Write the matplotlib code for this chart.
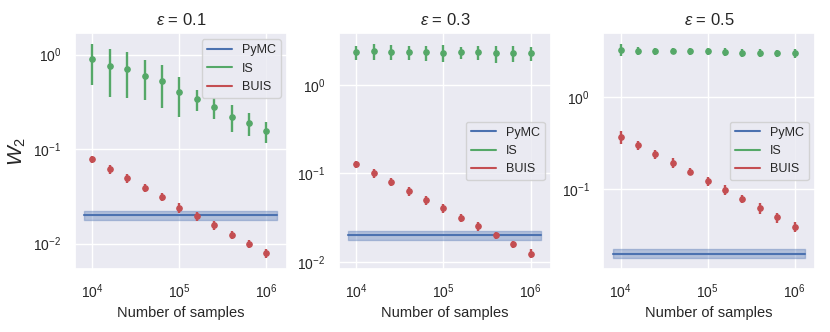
import numpy as np
import matplotlib
matplotlib.use("Agg")
import matplotlib.pyplot as plt
from matplotlib.lines import Line2D
import seaborn as sns

sns.set_theme(style="darkgrid")
plt.rcParams["font.family"] = ["Liberation Sans", "DejaVu Sans"]
plt.rcParams.update({
    "mathtext.fontset": "custom",
    "mathtext.rm": "Liberation Sans",
    "mathtext.it": "Liberation Sans:italic",
    "mathtext.bf": "Liberation Sans:bold",
})

BLUE = "#4c72b0"
GREEN = "#55a868"
RED = "#c44e52"

n_samples = [1e4, 1.585e4, 2.512e4, 3.981e4, 6.31e4, 1e5,
             1.585e5, 2.512e5, 3.981e5, 6.31e5, 1e6]
pymc_x = [8.1e3, 1.33e6]

eps_labels = ["0.1", "0.3", "0.5"]

is_mean = [
    [0.89, 0.76, 0.71, 0.60, 0.52, 0.40, 0.34, 0.277, 0.22, 0.19, 0.155],
    [2.35, 2.40, 2.38, 2.33, 2.32, 2.30, 2.32, 2.32, 2.28, 2.27, 2.28],
    [3.24, 3.14, 3.11, 3.16, 3.11, 3.11, 3.08, 2.98, 3.01, 2.96, 2.96],
]
is_err = [
    [0.41, 0.40, 0.36, 0.27, 0.25, 0.18, 0.085, 0.07, 0.07, 0.052, 0.038],
    [0.42, 0.50, 0.45, 0.42, 0.45, 0.50, 0.35, 0.42, 0.50, 0.48, 0.42],
    [0.50, 0.30, 0.28, 0.18, 0.25, 0.28, 0.30, 0.28, 0.32, 0.25, 0.30],
]
buis_mean = [
    [0.0778, 0.0616, 0.049, 0.0392, 0.0313, 0.0239, 0.0194, 0.0156, 0.01225, 0.0099, 0.0079],
    [0.1267, 0.1004, 0.0796, 0.063, 0.0496, 0.0403, 0.0314, 0.0251, 0.0199, 0.0158, 0.0124],
    [0.364, 0.2985, 0.2366, 0.1923, 0.1538, 0.121, 0.0975, 0.078, 0.0618, 0.049, 0.0389],
]
buis_err = [
    [0.007, 0.0065, 0.005, 0.004, 0.003, 0.0028, 0.0022, 0.0018, 0.0012, 0.001, 0.0009],
    [0.012, 0.011, 0.008, 0.007, 0.006, 0.0045, 0.0035, 0.003, 0.002, 0.0015, 0.0014],
    [0.06, 0.032, 0.028, 0.022, 0.014, 0.014, 0.012, 0.008, 0.008, 0.006, 0.005],
]
pymc_mean = [0.0199, 0.0201, 0.0199]
pymc_err = [0.002, 0.0025, 0.0022]
legend_locs = ["upper right", "center right", "center right"]

fig, axes = plt.subplots(1, 3, figsize=(8.3, 3.32), dpi=100)
fig.subplots_adjust(left=0.09, right=0.982, top=0.9, bottom=0.19, wspace=0.245)

for i, ax in enumerate(axes):
    ax.fill_between(pymc_x, pymc_mean[i] - pymc_err[i], pymc_mean[i] + pymc_err[i],
                    color=BLUE, alpha=0.35, linewidth=1)
    ax.plot(pymc_x, [pymc_mean[i]] * 2, color=BLUE, linewidth=1.5)
    ax.errorbar(n_samples, is_mean[i], yerr=is_err[i], fmt="o", color=GREEN,
                markersize=3.8, elinewidth=1.7, capsize=0)
    ax.errorbar(n_samples, buis_mean[i], yerr=buis_err[i], fmt="o", color=RED,
                markersize=3.8, elinewidth=1.7, capsize=0)
    ax.set_xscale("log")
    ax.set_yscale("log")
    ax.set_title(r"$\varepsilon$ = " + eps_labels[i], fontsize=12)
    ax.set_xlabel("Number of samples", fontsize=10.5)
    ax.tick_params(labelsize=10)
    handles = [Line2D([], [], color=BLUE, linewidth=1.5),
               Line2D([], [], color=GREEN, linewidth=1.5),
               Line2D([], [], color=RED, linewidth=1.5)]
    ax.legend(handles, ["PyMC", "IS", "BUIS"], loc=legend_locs[i], fontsize=9)

axes[0].set_ylabel("$W_2$", fontsize=15)

fig.savefig("out.png", dpi=100)
